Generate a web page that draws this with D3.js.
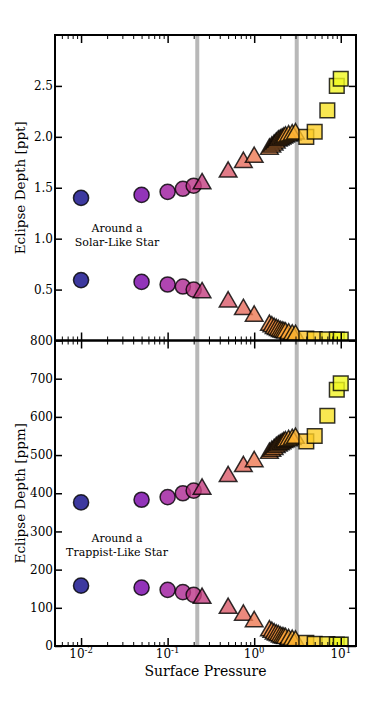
<!DOCTYPE html>
<html>
<head>
<meta charset="utf-8">
<script src="https://d3js.org/d3.v7.min.js"></script>
<style>
  body { margin: 0; background: white; }
  text { font-family: "DejaVu Serif", serif; fill: black; }
</style>
</head>
<body>
<svg id="chart" width="374" height="703"></svg>
<script>
// surface pressures of the models (bar)
var pressures = [0.01, 0.05, 0.1, 0.15, 0.2, 0.25, 0.5, 0.75, 1.0,
                 1.5, 1.6, 1.7, 1.8, 1.9, 2.0, 2.1, 2.2, 2.3, 2.5, 2.75, 3.0,
                 4, 5, 7, 9, 10];
// solar-like star, ppt
var solarUpper = [1.40, 1.43, 1.46, 1.49, 1.52, 1.54, 1.655, 1.75, 1.80,
                  1.88, 1.90, 1.92, 1.94, 1.96, 1.97, 1.98, 1.99, 2.00, 2.01, 2.02, 2.03,
                  2.00, 2.05, 2.26, 2.50, 2.57];
var solarLower = [0.593, 0.575, 0.55, 0.53, 0.50, 0.47, 0.38, 0.305, 0.24,
                  0.15, 0.135, 0.12, 0.11, 0.10, 0.09, 0.085, 0.08, 0.075, 0.065, 0.055, 0.05,
                  0.02, 0.015, 0.012, 0.01, 0.01];
// trappist-like star, ppm
var trapUpper = [376, 383, 390, 400, 407, 411, 444, 470, 483,
                 505, 510, 515, 520, 524, 527, 530, 533, 535, 538, 541, 544,
                 536, 550, 603, 671, 688];
var trapLower = [158, 153, 147, 141, 134, 125, 99, 81, 64,
                 40, 36, 32, 29, 27, 24, 22, 21, 20, 17, 15, 13,
                 8, 6, 5, 4, 4];
var grayLines = [0.22, 3.1];
var solarTicks = [0.5, 1.0, 1.5, 2.0, 2.5];
var trapTicks = [0, 100, 200, 300, 400, 500, 600, 700, 800];
var xTicks = [0.01, 0.1, 1, 10];

var svg = d3.select("#chart");
var left = 55, right = 356;
var panels = [
  {top: 35, bottom: 340.5, domain: [0, 3], ticks: solarTicks, fmt: d3.format(".1f"),
   label: "Eclipse Depth [ppt]", upper: solarUpper, lower: solarLower,
   note: ["Around a", "Solar-Like Star"], noteY: 232},
  {top: 340.5, bottom: 646, domain: [0, 800], ticks: trapTicks, fmt: d3.format("d"),
   label: "Eclipse Depth [ppm]", upper: trapUpper, lower: trapLower,
   note: ["Around a", "Trappist-Like Star"], noteY: 541.5}
];

var x = d3.scaleLog().domain([0.005, 15]).range([left, right]);
var color = d3.scaleLinear().domain([Math.log10(0.01), Math.log10(10)]).range([0, 1]);
var minorTicks = [];
[0.001, 0.01, 0.1, 1, 10].forEach(function(d) {
  for (var k = 2; k <= 9; k++) {
    var v = d * k;
    if (v > 0.005 && v < 15) minorTicks.push(v);
  }
});

function shape(p) {
  if (p <= 0.2) return d3.symbolCircle;
  if (p <= 3.0) return d3.symbolTriangle;
  return d3.symbolSquare;
}
function size(p) {
  if (p <= 0.2) return 180;
  if (p <= 3.0) return 135;
  return 215;
}

// gray lines across both panels
grayLines.forEach(function(g) {
  svg.append("line")
    .attr("x1", x(g)).attr("x2", x(g))
    .attr("y1", 35).attr("y2", 646)
    .style("stroke", "#b8b8b8")
    .style("stroke-width", 4);
});

panels.forEach(function(pn, i) {
  var y = d3.scaleLinear().domain(pn.domain).range([pn.bottom, pn.top]);
  var clipId = "clip" + i;
  svg.append("clipPath").attr("id", clipId)
    .append("rect").attr("x", left).attr("y", pn.top)
    .attr("width", right - left).attr("height", pn.bottom - pn.top);

  var g = svg.append("g").attr("clip-path", "url(#" + clipId + ")");
  [pn.upper, pn.lower].forEach(function(series) {
    g.selectAll(null)
      .data(pressures.map(function(p, j) { return {p: p, v: series[j]}; }))
      .enter().append("path")
      .attr("transform", function(d) { return "translate(" + x(d.p) + "," + y(d.v) + ")"; })
      .attr("d", function(d) { return d3.symbol().type(shape(d.p)).size(size(d.p))(); })
      .style("fill", function(d) { return d3.interpolatePlasma(color(Math.log10(d.p))); })
      .style("fill-opacity", 0.8)
      .style("stroke", "black")
      .style("stroke-opacity", 0.8)
      .style("stroke-width", 1.5);
  });

  // y axes, ticks inward
  svg.append("g")
    .attr("transform", "translate(" + left + ",0)")
    .call(d3.axisRight(y).tickValues(pn.ticks).tickSize(7).tickFormat(""))
    .call(function(a) { a.select(".domain").remove(); a.selectAll("line").style("stroke-width", 1.5); });
  svg.append("g")
    .attr("transform", "translate(" + right + ",0)")
    .call(d3.axisLeft(y).tickValues(pn.ticks).tickSize(7).tickFormat(""))
    .call(function(a) { a.select(".domain").remove(); a.selectAll("line").style("stroke-width", 1.5); });
  svg.append("g").selectAll("text").data(pn.ticks).enter().append("text")
    .attr("x", left - 2).attr("y", function(d) { return y(d); })
    .attr("dy", "0.35em")
    .attr("text-anchor", "end")
    .style("font-size", "12px")
    .text(pn.fmt);

  // x ticks inward, top and bottom of panel
  [[pn.bottom, d3.axisTop], [pn.top, d3.axisBottom]].forEach(function(s) {
    svg.append("g")
      .attr("transform", "translate(0," + s[0] + ")")
      .call(s[1](x).tickValues(xTicks).tickSize(8).tickFormat(""))
      .call(function(a) { a.select(".domain").remove(); a.selectAll("line").style("stroke-width", 1.5); });
    svg.append("g")
      .attr("transform", "translate(0," + s[0] + ")")
      .call(s[1](x).tickValues(minorTicks).tickSize(4).tickFormat(""))
      .call(function(a) { a.select(".domain").remove(); a.selectAll("line").style("stroke-width", 1); });
  });

  svg.append("rect")
    .attr("x", left).attr("y", pn.top)
    .attr("width", right - left).attr("height", pn.bottom - pn.top)
    .style("fill", "none").style("stroke", "black").style("stroke-width", 2);

  svg.append("text")
    .attr("transform", "translate(25," + ((pn.top + pn.bottom) / 2) + ") rotate(-90)")
    .attr("text-anchor", "middle")
    .style("font-size", "13.5px")
    .text(pn.label);

  var nt = svg.append("text")
    .attr("text-anchor", "middle")
    .style("font-size", "11px");
  nt.append("tspan").attr("x", 117).attr("y", pn.noteY).text(pn.note[0]);
  nt.append("tspan").attr("x", 117).attr("dy", 14).text(pn.note[1]);
});

// x tick labels
var xl = svg.append("g").selectAll("text").data(xTicks).enter().append("text")
  .attr("x", function(d) { return x(d); })
  .attr("y", 658)
  .attr("text-anchor", "middle")
  .style("font-size", "12px");
xl.append("tspan").text("10");
xl.append("tspan").attr("dy", "-5").style("font-size", "8.5px")
  .text(function(d) { return String(Math.round(Math.log10(d))); });

svg.append("text")
  .attr("x", (left + right) / 2).attr("y", 676)
  .attr("text-anchor", "middle")
  .style("font-size", "14px")
  .text("Surface Pressure");
</script>
</body>
</html>
